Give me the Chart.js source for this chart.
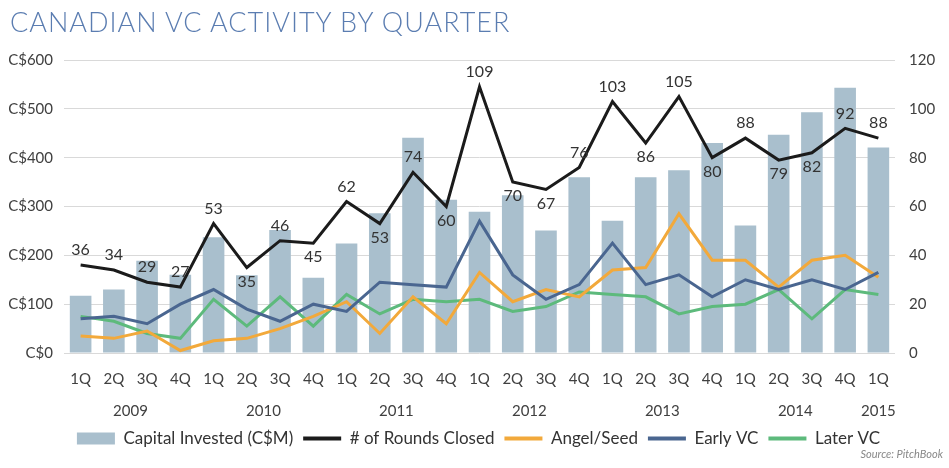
<!DOCTYPE html>
<html>
<head>
<meta charset="utf-8">
<script src="https://cdn.jsdelivr.net/npm/chart.js@4.4.0/dist/chart.umd.min.js"></script>
<style>
  html, body { margin: 0; padding: 0; background: #fff; }
  #wrap { position: relative; width: 949px; height: 468px; }
  #title { position: absolute; left: 10px; top: 5px; font: 300 27px Lato; letter-spacing: 1px; color: #5b7db1; white-space: nowrap; }
  #source { position: absolute; right: 6px; top: 447px; font: italic 11px Lato; color: #888; }
  canvas { position: absolute; left: 0; top: 0; }
</style>
</head>
<body>
<div id="wrap">
  <canvas id="chart" width="949" height="468"></canvas>
  <div id="title">CANADIAN VC ACTIVITY BY QUARTER</div>
  <div id="source">Source: PitchBook</div>
</div>
<script>
const quarters = ['1Q','2Q','3Q','4Q','1Q','2Q','3Q','4Q','1Q','2Q','3Q','4Q','1Q','2Q','3Q','4Q','1Q','2Q','3Q','4Q','1Q','2Q','3Q','4Q','1Q'];
const years = ['2009','2010','2011','2012','2013','2014','2015'];
const yearPos = [1.5, 5.5, 9.5, 13.5, 17.5, 21.5, 24];

const capital = [117,130,189,160,237,159,252,154,224,286,441,314,289,323,251,360,271,360,374,430,261,447,493,543,421];
const rounds = [36,34,29,27,53,35,46,45,62,53,74,60,109,70,67,76,103,86,105,80,88,79,82,92,88];
const angelSeed = [7,6,9,1,5,6,10,15,21,8,23,12,33,21,26,23,34,35,57,38,38,27,38,40,31];
const earlyVC = [14,15,12,20,26,18,13,20,17,29,28,27,54,32,22,28,45,28,32,23,30,26,30,26,33];
const laterVC = [15,13,8,6,22,11,23,11,24,16,22,21,22,17,19,25,24,23,16,19,20,26,14,26,24];
// where each rounds label sits relative to its point
const labelSide = ['up','up','up','up','up','down','up','down','up','down','up','down','up','down','down','up','up','down','up','down','up','down','down','up','up'];

const tickFont = { family: 'Lato', size: 15 };
const tickColor = '#404040';

const roundLabels = {
  id: 'roundLabels',
  afterDatasetsDraw(chart) {
    const meta = chart.getDatasetMeta(1);
    const ctx = chart.ctx;
    ctx.save();
    ctx.font = '16px Lato';
    ctx.fillStyle = '#333';
    ctx.textAlign = 'center';
    ctx.textBaseline = 'middle';
    meta.data.forEach((pt, i) => {
      const dy = labelSide[i] === 'up' ? -15 : 14;
      ctx.fillText(rounds[i], pt.x, pt.y + dy);
    });
    ctx.restore();
  }
};

// year row under the quarter ticks, placed with the x scale
const yearRow = {
  id: 'yearRow',
  afterDraw(chart) {
    const x = chart.scales.x;
    const ctx = chart.ctx;
    ctx.save();
    ctx.font = tickFont.size + 'px ' + tickFont.family;
    ctx.fillStyle = tickColor;
    ctx.textAlign = 'center';
    ctx.textBaseline = 'middle';
    years.forEach((yr, i) => ctx.fillText(yr, x.getPixelForValue(yearPos[i]), x.bottom - 9));
    ctx.restore();
  }
};

new Chart(document.getElementById('chart'), {
  data: {
    labels: quarters,
    datasets: [
      { type: 'bar', label: 'Capital Invested (C$M)', data: capital, yAxisID: 'y', backgroundColor: '#a9bfcd', barPercentage: 0.65, categoryPercentage: 1, order: 5 },
      { type: 'line', label: '# of Rounds Closed', data: rounds, yAxisID: 'y1', borderColor: '#1b1b1b', borderWidth: 3, pointRadius: 0, tension: 0, order: 0 },
      { type: 'line', label: 'Angel/Seed', data: angelSeed, yAxisID: 'y1', borderColor: '#f2a93b', borderWidth: 3, pointRadius: 0, tension: 0, order: 3 },
      { type: 'line', label: 'Early VC', data: earlyVC, yAxisID: 'y1', borderColor: '#4a6690', borderWidth: 3, pointRadius: 0, tension: 0, order: 2 },
      { type: 'line', label: 'Later VC', data: laterVC, yAxisID: 'y1', borderColor: '#5dba7c', borderWidth: 3, pointRadius: 0, tension: 0, order: 4 }
    ]
  },
  options: {
    responsive: false,
    animation: false,
    layout: { padding: { top: 60, left: 8, right: 0, bottom: 11 } },
    plugins: {
      tooltip: { enabled: false },
      legend: {
        position: 'bottom',
        labels: {
          font: { family: 'Lato', size: 17 },
          color: '#333',
          usePointStyle: true,
          pointStyleWidth: 38,
          boxHeight: 12,
          padding: 10,
          sort: (a, b) => a.datasetIndex - b.datasetIndex,
          generateLabels(chart) {
            return chart.data.datasets.map((ds, i) => ({
              text: ds.label,
              datasetIndex: i,
              fillStyle: ds.type === 'bar' ? ds.backgroundColor : ds.borderColor,
              strokeStyle: ds.type === 'bar' ? ds.backgroundColor : ds.borderColor,
              lineWidth: ds.type === 'bar' ? 0 : 4,
              pointStyle: ds.type === 'bar' ? 'rect' : 'line',
              fontColor: '#333'
            }));
          }
        }
      }
    },
    scales: {
      x: {
        type: 'category',
        offset: true,
        grid: { display: false, drawTicks: false },
        border: { display: false },
        ticks: { font: tickFont, color: tickColor, padding: 17, maxRotation: 0, autoSkip: false },
        afterFit: axis => { axis.height += 15; }
      },
      y: {
        position: 'left',
        min: 0, max: 600,
        grid: { color: '#d9d9d9', drawTicks: false },
        border: { display: false },
        ticks: { stepSize: 100, font: tickFont, color: tickColor, padding: 11, callback: v => 'C$' + v },
        afterFit: axis => { axis.width = 56; }
      },
      y1: {
        position: 'right',
        min: 0, max: 120,
        grid: { display: false, drawTicks: false },
        border: { display: false },
        ticks: { stepSize: 20, font: tickFont, color: tickColor, padding: 14 },
        afterFit: axis => { axis.width = 54; }
      }
    }
  },
  plugins: [roundLabels, yearRow]
});
</script>
</body>
</html>
